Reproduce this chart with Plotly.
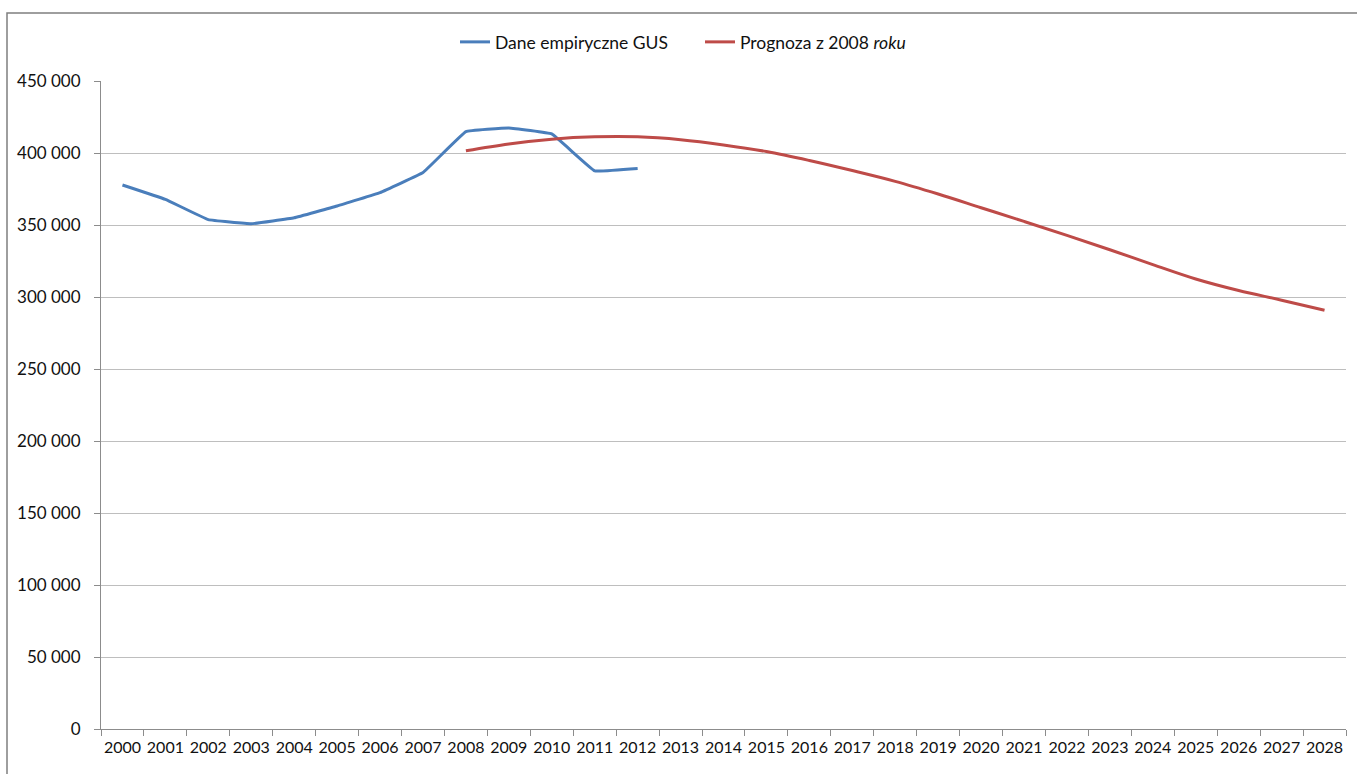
import plotly.graph_objects as go

# Liczba urodzeń w Polsce: dane GUS oraz prognoza z 2008 roku
years = [str(y) for y in range(2000, 2029)]

gus_years = [str(y) for y in range(2000, 2013)]
gus_values = [377800, 367800, 353700, 350900, 355000, 363200, 372500,
              386400, 414800, 417400, 413200, 387600, 389200]

forecast_years = [str(y) for y in range(2008, 2029)]
forecast_values = [401500, 406300, 409600, 411200, 411200, 409200, 405600,
                   401000, 394800, 387800, 380300, 371500, 362000, 352500,
                   342800, 332800, 322500, 312500, 304500, 297800, 290800]

y_ticks = [0, 50000, 100000, 150000, 200000, 250000, 300000, 350000, 400000, 450000]

W, H = 1357, 774
FONT = "Lato"
TEXT = "#111111"
BLUE = "#4A7EBB"
RED = "#BE4B48"
AXIS = "#8C8C8C"
GRID = "#BEBEBE"


def px_x(v):
    return v / W


def px_y(v):
    return (H - v) / H


fig = go.Figure()
fig.add_trace(go.Scatter(
    x=gus_years, y=gus_values, mode="lines", name="Dane empiryczne GUS",
    line=dict(color=BLUE, width=3, shape="spline", smoothing=0.2),
))
fig.add_trace(go.Scatter(
    x=forecast_years, y=forecast_values, mode="lines",
    name="Prognoza z 2008 <i>roku</i>",
    line=dict(color=RED, width=3, shape="spline", smoothing=1.0),
))

fig.update_layout(
    width=W, height=H,
    margin=dict(l=0, r=0, t=0, b=0, pad=0),
    paper_bgcolor="white", plot_bgcolor="white",
    separators=", ",
    font=dict(family=FONT, size=16, color=TEXT),
    showlegend=True,
    legend=dict(
        orientation="h", x=px_x(455), xanchor="left", y=px_y(42), yanchor="middle",
        font=dict(family=FONT, size=17.5, color=TEXT),
        itemwidth=30, entrywidth=200, entrywidthmode="pixels",
        bgcolor="rgba(0,0,0,0)",
    ),
    xaxis=dict(
        type="category", categoryorder="array", categoryarray=years,
        tickvals=years, ticktext=years,
        range=[-0.5, len(years) - 0.5],
        domain=[px_x(101), px_x(1346)],
        automargin=False,
        showgrid=False, zeroline=False,
        showline=True, linecolor=AXIS, linewidth=1,
        ticks="outside", tickson="boundaries", ticklen=6, tickcolor=AXIS,
        tickfont=dict(family=FONT, size=16, color=TEXT),
        ticklabelstandoff=4,
        tickangle=0,
    ),
    yaxis=dict(
        range=[0, 450000],
        domain=[px_y(729), px_y(81)],
        automargin=False,
        tickvals=y_ticks, tickformat=",d",
        showgrid=True, gridcolor=GRID, gridwidth=1,
        zeroline=False,
        showline=True, linecolor=AXIS, linewidth=1,
        ticks="outside", ticklen=6, tickcolor=AXIS,
        tickfont=dict(family=FONT, size=17, color=TEXT),
        ticklabelstandoff=10,
    ),
    shapes=[dict(
        type="rect", xref="paper", yref="paper",
        x0=px_x(7), x1=px_x(1365), y0=px_y(785), y1=px_y(13),
        line=dict(color="#7F7F7F", width=1.5), fillcolor="rgba(0,0,0,0)",
        layer="below",
    )],
)

fig.write_html("out.html")
